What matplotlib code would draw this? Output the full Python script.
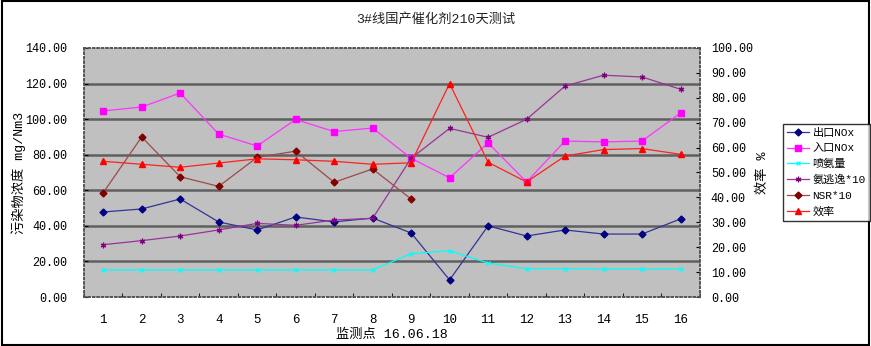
import matplotlib
matplotlib.use("Agg")
import matplotlib.pyplot as plt
from matplotlib.patches import Rectangle

plt.rcParams['font.family'] = ['Liberation Mono', 'Noto Sans CJK SC', 'DejaVu Sans']

points = list(range(1, 17))
out_nox = [47.8, 49.5, 55.1, 42.2, 37.7, 45.0, 42.2, 44.4, 36.0, 9.6, 40.0, 34.3, 37.7, 35.4, 35.4, 43.9]
in_nox = [104.6, 106.8, 114.7, 91.6, 84.9, 99.8, 93.0, 95.0, 78.0, 67.0, 86.6, 64.7, 87.7, 87.2, 87.7, 103.4]
nh3_inject = [15.2, 15.2, 15.2, 15.2, 15.2, 15.2, 15.2, 15.2, 24.4, 26.0, 19.1, 15.9, 15.9, 15.7, 15.7, 15.7]
nh3_slip10 = [29.4, 31.7, 34.3, 37.7, 41.4, 40.3, 43.3, 44.2, 78.0, 94.8, 89.8, 99.9, 118.6, 124.7, 123.7, 116.8]
nsr10 = [58.6, 90.0, 67.6, 62.2, 78.5, 82.0, 64.5, 72.0, 55.1]
efficiency = [54.5, 53.3, 52.1, 53.8, 55.5, 55.1, 54.5, 53.3, 53.9, 85.7, 54.1, 46.2, 56.6, 59.2, 59.6, 57.3]

fig = plt.figure(figsize=(8.71, 3.46), dpi=100)
ax = fig.add_axes([0.0964, 0.1416, 0.707, 0.7197])
ax.set_facecolor('#c0c0c0')

ax.plot(points, out_nox, color='#333399', lw=0.9, marker='D', ms=3.5, mfc='#000080', mec='#000080', label='出口NOx')
ax.plot(points, in_nox, color='#ff33ff', lw=0.9, marker='s', ms=4.5, mfc='#ff00ff', mec='#ff00ff', label='入口NOx')
ax.plot(points, nh3_inject, color='#00ffff', lw=0.9, marker='x', ms=3.5, mew=0.9, label='喷氨量')
ax.plot(points, nh3_slip10, color='#993399', lw=0.9, marker=(6, 2, 0), ms=4, mew=0.9, mec='#800080', label='氨逃逸*10')
ax.plot(points[:len(nsr10)], nsr10, color='#a04848', lw=0.9, marker='D', ms=3.5, mfc='#800000', mec='#800000', label='NSR*10')

ax2 = ax.twinx()
ax2.plot(points, efficiency, color='#ff2020', lw=0.9, marker='^', ms=5, mfc='#ff0000', mec='#ff0000', label='效率')

ax.set_xlim(0.5, 16.5)
ax.set_ylim(0, 140)
ax2.set_ylim(0, 100)
ax.set_yticks(range(0, 141, 20))
ax.set_yticklabels(['%.2f' % v for v in range(0, 141, 20)])
ax2.set_yticks(range(0, 101, 10))
ax2.set_yticklabels(['%.2f' % v for v in range(0, 101, 10)])
ax.set_xticks(points)
ax.set_xticks([p + 0.5 for p in range(0, 17)], minor=True)
ax.tick_params(axis='x', which='major', length=0, pad=12, labelsize=9)
ax.tick_params(axis='x', which='minor', direction='in', length=3)
ax.tick_params(axis='y', direction='in', length=3, labelsize=8.5, pad=12)
ax2.tick_params(axis='y', direction='in', length=3, labelsize=8.5, pad=8)

for v in range(20, 140, 20):
    ax.axhline(v, color='#606060', lw=1.8, zorder=0.5)

for a in (ax, ax2):
    for s in a.spines.values():
        s.set_linestyle(':')
        s.set_color('#555555')
        s.set_linewidth(1.2)

ax.set_xlabel('监测点 16.06.18', fontsize=9.5, labelpad=2)
fig.text(0.022, 0.5, '污染物浓度 mg/Nm3', rotation=90, ha='center', va='center', fontsize=9.5)
fig.text(0.876, 0.5, '效率 %', rotation=90, ha='center', va='center', fontsize=9.5)
fig.text(0.5, 0.945, '3#线国产催化剂210天测试', ha='center', va='center', fontsize=9.5, color='#222222')

h1, l1 = ax.get_legend_handles_labels()
h2, l2 = ax2.get_legend_handles_labels()
leg = fig.legend(h1 + h2, l1 + l2, loc='upper left', bbox_to_anchor=(0.899, 0.642),
                 prop={'size': 8}, frameon=True, fancybox=False, handlelength=2.0,
                 handletextpad=0.3, borderpad=0.35, labelspacing=0.5, borderaxespad=0)
leg.get_frame().set_edgecolor('black')
leg.get_frame().set_linewidth(1.0)

fig.patches.append(Rectangle((0.002, 0.003), 0.996, 0.994, transform=fig.transFigure,
                             fill=False, edgecolor='black', lw=1.5))

fig.savefig('out.png', dpi=100)
